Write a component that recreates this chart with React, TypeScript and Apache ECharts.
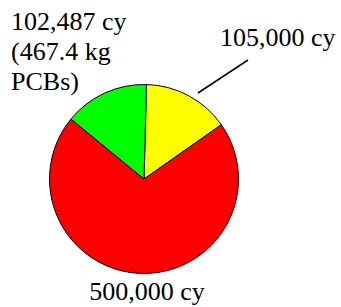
import React, { useEffect, useRef } from "react";
import * as echarts from "echarts";

const categories = ["105,000 cy", "500,000 cy", "102,487 cy\n(467.4 kg\nPCBs)"];
const values = [105000, 500000, 102487];
const colors = ["#FFFF00", "#FF0000", "#00FF00"];

export default function App() {
  const ref = useRef<HTMLDivElement>(null);
  useEffect(() => {
    document.body.style.margin = "0";
    const chart = echarts.init(ref.current!, null, { renderer: "svg" });
    const labelPos = [
      { x: 220, y: 37, align: "left" },
      { x: 147, y: 291, align: "center" },
      { x: 11, y: 51, align: "left" },
    ];
    chart.setOption({
      animation: false,
      backgroundColor: "#ffffff",
      textStyle: { fontFamily: "Liberation Serif" },
      graphic: [
        {
          type: "line",
          shape: { x1: 198, y1: 93, x2: 248, y2: 60 },
          style: { stroke: "#000", lineWidth: 1.5 },
        },
      ],
      series: [
        {
          type: "pie",
          center: [144, 179],
          radius: 94.5,
          startAngle: 88.5,
          clockwise: true,
          avoidLabelOverlap: false,
          itemStyle: { borderColor: "#000", borderWidth: 1 },
          label: {
            show: true,
            formatter: "{b}",
            fontFamily: "Liberation Serif",
            fontWeight: "normal",
            fontSize: 26,
            lineHeight: 30,
            color: "#000",
          },
          labelLine: { show: false },
          labelLayout: (p: any) => ({
            x: labelPos[p.dataIndex].x,
            y: labelPos[p.dataIndex].y,
            align: labelPos[p.dataIndex].align,
            verticalAlign: "middle",
          }),
          data: values.map((v, i) => ({
            value: v,
            name: categories[i],
            itemStyle: { color: colors[i] },
          })),
        },
      ],
    });
    return () => chart.dispose();
  }, []);
  return <div ref={ref} style={{ width: 341, height: 307 }} />;
}
